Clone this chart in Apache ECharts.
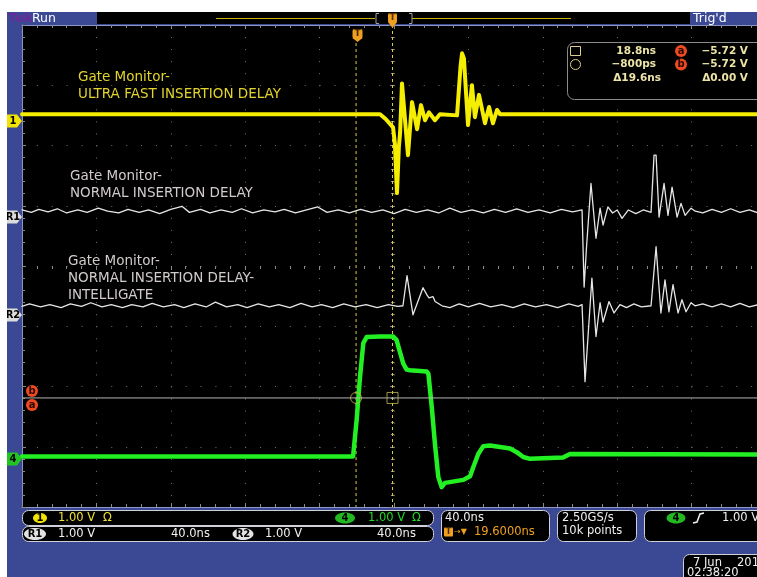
<!DOCTYPE html>
<html><head><meta charset="utf-8">
<script src="https://cdn.jsdelivr.net/npm/echarts@6/dist/echarts.min.js"></script>
<style>html,body{margin:0;padding:0;background:#fff}#c{width:757px;height:577px}</style>
</head><body><div id="c"></div><script>
// ---- scope settings ----
const TIME_PER_DIV = 40;      // ns/div
const X_VISIBLE_NS = 395.16;  // the right ~0.12 div of the 10-div screen is cropped off the picture
const Y_DIVS = 8;             // -4 .. 4 div, 1 V/div
const HPOS_NS = 180.4;        // trigger point measured from left edge (ns)
const CURSOR_T = [-0.8, 18.8]; // cursor times relative to trigger (ns)
const CURSOR_LEVEL = -2.19;   // horizontal cursor a/b position (div)
// channel ground positions (div)
const CH1_POS = 2.52, R1_POS = 0.91, R2_POS = -0.66, CH4_POS = -3.16;

// ---- waveforms: [time from left edge (ns), volts relative to ground] ----
const ch1Wave = [[0,0],[192.5,0],[195.5,-0.08],[199.5,-0.22],[200.5,-0.5],[201.6,-1.31],[202.6,-0.55],[203.3,-0.3],[204.3,0.51],
 [207.5,-0.68],[209.7,0.20],[212.4,-0.25],[214.5,0.15],[216.7,-0.10],[218.8,0.03],[222.0,-0.10],[224.7,0],[233.9,-0.02],
 [235.8,0.8],[236.6,1.01],[237.6,0.92],[239.8,-0.18],[241.9,0.48],[243.5,-0.05],[245.7,0.32],[248.9,-0.15],[251.1,0.12],
 [253.2,-0.15],[255.4,0.07],[257.0,0],[400,0]];
const r1Wave = [[0,0.02],[5,-0.02],[9,0.03],[14,-0.01],[19,0.04],[24,-0.03],[30,0.02],[35,-0.02],[41,0.05],[46,0],[52,-0.03],
 [57,0.03],[63,-0.02],[68,0.02],[74,-0.04],[80,0.03],[86,0.08],[90,-0.02],[96,0.03],[101,-0.03],[107,0.02],[113,-0.02],
 [118,0.04],[124,-0.03],[130,0.02],[136,-0.01],[141,0.03],[147,-0.03],[153,0.02],[159,0.07],[164,-0.02],[170,0.02],
 [176,-0.03],[182,0.03],[188,-0.02],[194,0.02],[200,-0.04],[206,0.03],[212,-0.02],[218,0.02],[224,-0.03],[230,0.05],
 [236,-0.02],[242,0.02],[248,-0.03],[254,0.03],[260,-0.02],[266,0.04],[272,-0.02],[278,0.02],[284,-0.03],[290,0.03],
 [296,-0.01],[301.1,0.02],[302.2,-1.26],[303.5,-0.6],[305.9,0.46],[308.6,-0.45],[310.8,0.05],[312.4,-0.23],[315.0,0.07],
 [317.5,-0.03],[320,0.02],[322.6,-0.12],[326,0.02],[330,-0.04],[334,0.02],[338.2,-0.02],[339.8,0.93],[340.9,0.93],
 [342.5,-0.10],[345.2,0.46],[347.3,-0.07],[349.5,0.40],[352.2,-0.10],[354.3,0.13],[356.5,-0.07],[359.7,0.05],[362,0.0],
 [366,-0.03],[371,0.03],[376,-0.02],[381,0.04],[386,-0.02],[391,0.02],[396,-0.03],[400,0.01]];
const r2Wave = [[0,-0.01],[4,0.03],[10,-0.02],[15,0.02],[21,-0.03],[26,0.03],[32,-0.01],[37,0.05],[43,-0.02],[48,0.02],
 [54,-0.03],[59,0.02],[65,-0.02],[70,0.04],[76,-0.02],[82,0.02],[87,-0.03],[93,0.03],[99,-0.02],[104,0.06],[110,-0.02],
 [116,0.02],[121,-0.03],[127,0.03],[133,-0.02],[138,0.02],[144,-0.03],[150,0.04],[156,-0.02],[161,0.02],[167,-0.03],
 [173,0.03],[179,-0.02],[185,0.02],[191,-0.03],[197,0.02],[202,-0.01],[204.8,0],[207.0,0.50],[210.2,-0.15],[215.6,0.30],
 [217.7,0.18],[218.8,0.13],[221.0,0.15],[222.1,0.07],[225.8,0],[230,-0.03],[235,0.03],[240,-0.02],[246,0.04],[252,-0.02],
 [258,0.02],[264,-0.03],[270,0.03],[276,-0.02],[282,0.02],[288,-0.03],[294,0.03],[299,-0.01],[301.1,0.02],[302.7,-1.26],
 [306.4,0.46],[308.6,-0.51],[310.8,0.05],[312.4,-0.27],[315.6,0.07],[318.3,-0.12],[321.5,0.02],[325,-0.03],[329,0.03],
 [333,-0.02],[338.2,0],[340.9,0.98],[343.5,-0.12],[345.7,0.43],[347.8,-0.10],[350.0,0.35],[352.7,-0.12],[354.8,0.10],
 [357.0,-0.10],[359.7,0.05],[361.8,0],[366,0.03],[371,-0.02],[376,0.03],[381,-0.02],[386,0.04],[391,-0.02],[396,0.02],[400,0]];
const ch4Wave = [[0,0],[178.0,0],[179.9,0.6],[181.7,1.31],[183.5,1.88],[185.3,1.98],[192.5,1.99],[199.6,1.99],[201.4,1.93],
 [203.2,1.73],[205.0,1.54],[206.8,1.44],[208.6,1.43],[217.6,1.41],[218.5,1.37],[220.3,0.82],[222.0,0.21],[223.8,-0.34],
 [225.6,-0.51],[227.4,-0.44],[237.3,-0.39],[240.9,-0.33],[242.6,-0.18],[245.3,0.04],[248.0,0.17],[251.6,0.18],[262.4,0.13],
 [266.0,0.07],[269.5,-0.01],[273.1,-0.04],[290.9,-0.02],[294.6,0.04],[400,0.03]];

// ---- readouts ----
const measRows = [["18.8ns","a","−5.72 V"],["−800ps","b","−5.72 V"]];
const measDelta = ["Δ19.6ns","Δ0.00 V"];
const traceLabels = [
  {lines:["Gate Monitor-","ULTRA FAST INSERTION DELAY"], color:"#e2d42c"},
  {lines:["Gate Monitor-","NORMAL INSERTION DELAY"], color:"#d2cbcb"},
  {lines:["Gate Monitor-","NORMAL INSERTION DELAY-","INTELLIGATE"], color:"#d2cbcb"}
];

const shift = (w, off) => w.map(p => [p[0], p[1] + off]);
const FONT = "'DejaVu Sans'";
const BLUE = '#3b4994';

function xAx(pos, offset, split, line, inside) {
  return {type:'value', min:0, max:X_VISIBLE_NS, interval:TIME_PER_DIV, position:pos, offset:offset,
    axisLine:{show:line, onZero:false, lineStyle:{color:'#8e96c6', width:1}},
    axisTick:{show:true, inside:inside, length:4, lineStyle:{color:'#8a8a8a'}},
    minorTick:{show:true, splitNumber:5, length:3, lineStyle:{color:'#8a8a8a'}},
    axisLabel:{show:false},
    splitLine:{show:split, lineStyle:{color:'#707070', width:1, type:[1,11.05]}}};
}
function yAx(pos, offset, split, line, inside) {
  return {type:'value', min:-Y_DIVS/2, max:Y_DIVS/2, interval:1, position:pos, offset:offset,
    axisLine:{show:line, onZero:false, lineStyle:{color:'#8e96c6', width:1}},
    axisTick:{show:true, inside:inside, length:4, lineStyle:{color:'#8a8a8a'}},
    minorTick:{show:true, splitNumber:5, length:3, lineStyle:{color:'#8a8a8a'}},
    axisLabel:{show:false},
    splitLine:{show:split, lineStyle:{color:'#707070', width:1, type:[1,13.88]}}};
}

function txt(x, y, text, fill, font, align, z) {
  return {type:'text', z: z||12, style:{x:x, y:y, text:text, fill:fill, font:font, textAlign:align||'left', textVerticalAlign:'middle'}};
}
function rrect(x, y, w, h, r, fill, stroke, z) {
  return {type:'rect', z: z||11, shape:{x:x, y:y, width:w, height:h, r:r}, style:{fill:fill, stroke:stroke||null, lineWidth:1}};
}
function chMarker(y, label, fill) {
  return [
    {type:'polygon', z:12, shape:{points:[[7,y-6.5],[17,y-6.5],[22,y],[17,y+6.5],[7,y+6.5]]}, style:{fill:fill}},
    txt(13, y, label, '#000', 'bold 10px ' + FONT, 'center', 13)
  ];
}
function oval(cx, cy, rx, ry, fill, label, lfill) {
  return [
    {type:'ellipse', z:12, shape:{cx:cx, cy:cy, rx:rx, ry:ry}, style:{fill:fill}},
    txt(cx, cy+0.5, label, lfill||'#000', 'bold 10px ' + FONT, 'center', 13)
  ];
}
function redCircle(cx, cy, letter) {
  return [
    {type:'circle', z:12, shape:{cx:cx, cy:cy, r:6}, style:{fill:'#ee4a22'}},
    txt(cx, cy, letter, '#2a0800', 'bold 10px ' + FONT, 'center', 13)
  ];
}

const G = [];
// margins
G.push({type:'rect', z:30, shape:{x:0,y:0,width:757,height:12}, style:{fill:'#fff'}});
G.push({type:'rect', z:30, shape:{x:0,y:0,width:7,height:577}, style:{fill:'#fff'}});
// top bar
G.push({type:'rect', z:11, shape:{x:97,y:12,width:593,height:12}, style:{fill:'#000'}});
G.push(txt(8, 18.5, 'Tek', '#6a2a9a', 'bold 13px ' + FONT));
G.push(txt(32, 18.5, 'Run', '#ffffff', '12.5px ' + FONT));
G.push(txt(693, 18.5, "Trig'd", '#ffffff', '12.5px ' + FONT));
G.push({type:'polyline', z:12, shape:{points:[[216,18.5],[375,18.5]]}, style:{stroke:'#c8b400', lineWidth:1, fill:null}});
G.push({type:'polyline', z:12, shape:{points:[[412,18.5],[571,18.5]]}, style:{stroke:'#c8b400', lineWidth:1, fill:null}});
G.push({type:'polyline', z:12, shape:{points:[[379,13.5],[376,13.5],[376,23.5],[379,23.5]]}, style:{stroke:'#a0a0a0', lineWidth:1, fill:null}});
G.push({type:'polyline', z:12, shape:{points:[[409,13.5],[412,13.5],[412,23.5],[409,23.5]]}, style:{stroke:'#a0a0a0', lineWidth:1, fill:null}});
G.push(rrect(388, 13, 9, 10, 2, '#f0a020', null, 14));
G.push({type:'polygon', z:14, shape:{points:[[388,22],[397,22],[392.5,28]]}, style:{fill:'#f0a020'}});
G.push(txt(392.5, 18, 'T', '#5a3000', 'bold 9px ' + FONT, 'center', 15));
// trigger marker in plot
G.push(rrect(352.5, 29, 10, 10, 2, '#f0a020', null, 14));
G.push({type:'polygon', z:14, shape:{points:[[352.5,38],[362.5,38],[357.5,42]]}, style:{fill:'#f0a020'}});
G.push(txt(357.5, 34, 'T', '#4a2800', 'bold 9px ' + FONT, 'center', 15));
// channel markers
G.push(...chMarker(121, '1', '#f2e400'));
G.push(...chMarker(217, 'R1', '#dcdcdc'));
G.push(...chMarker(315, 'R2', '#dcdcdc'));
G.push(...chMarker(459, '4', '#22c422'));
// cursor level markers
G.push(...redCircle(32, 391, 'b'));
G.push(...redCircle(32, 405, 'a'));
// trace labels
const labelPos = [[78, 77], [70, 176], [68, 261]];
traceLabels.forEach((lb, i) => {
  lb.lines.forEach((s, j) => G.push(txt(labelPos[i][0], labelPos[i][1] + j*17, s, lb.color, '13.5px ' + FONT)));
});
// measurement box
G.push(rrect(567.5, 42.5, 200, 57, 7, '#000', '#8c8c8c', 11));
G.push({type:'rect', z:12, shape:{x:570.5,y:46.5,width:10,height:9}, style:{fill:null, stroke:'#d8d088', lineWidth:1}});
G.push({type:'circle', z:12, shape:{cx:575.5,cy:64.5,r:5}, style:{fill:null, stroke:'#d8d088', lineWidth:1}});
const MF = 'bold 10.5px ' + FONT, MC = '#ece4a6';
measRows.forEach((r, i) => {
  const y = 51 + i*13.5;
  G.push(txt(656, y, r[0], MC, MF, 'right'));
  G.push(...redCircle(681, y, r[1]));
  G.push(txt(748, y, r[2], MC, MF, 'right'));
});
G.push(txt(661, 78.5, measDelta[0], MC, MF, 'right'));
G.push(txt(748, 78.5, measDelta[1], MC, MF, 'right'));
// bottom readouts
const BF = '11.5px ' + FONT;
G.push(rrect(22.5, 510.5, 411, 15, 6, '#000', '#d0d0d8'));
G.push(rrect(22.5, 526.5, 411, 15, 6, '#000', '#d0d0d8'));
G.push(...oval(40, 518, 7, 5, '#f2e400', '1'));
G.push(txt(58, 518.5, '1.00 V', '#f0e030', BF));
G.push(txt(103, 518.5, 'Ω', '#f0e030', BF));
G.push(...oval(345, 518, 10, 5.5, '#22b822', '4'));
G.push(txt(368, 518.5, '1.00 V', '#22d822', BF));
G.push(txt(412, 518.5, 'Ω', '#22d822', BF));
G.push(...oval(35, 534, 11, 6, '#e2e2e2', 'R1'));
G.push(txt(58, 534.5, '1.00 V', '#f0f0f0', BF));
G.push(txt(171, 534.5, '40.0ns', '#f0f0f0', BF));
G.push(...oval(243, 534, 10.5, 6, '#e2e2e2', 'R2'));
G.push(txt(265, 534.5, '1.00 V', '#f0f0f0', BF));
G.push(txt(377, 534.5, '40.0ns', '#f0f0f0', BF));
G.push(rrect(441.5, 510.5, 108, 31, 6, '#000', '#d0d0d8'));
G.push(txt(445, 518.5, '40.0ns', '#f0f0f0', BF));
G.push(rrect(444, 527.5, 9, 9, 1, '#f0a020', null, 12));
G.push(txt(448.5, 532, 'T', '#4a2800', 'bold 8px ' + FONT, 'center', 13));
G.push(txt(454, 532, '→▼', '#f0a020', '8px ' + FONT));
G.push(txt(474, 532.5, '19.6000ns', '#f0a020', BF));
G.push(rrect(557.5, 510.5, 79, 31, 6, '#000', '#d0d0d8'));
G.push(txt(562, 518.5, '2.50GS/s', '#f0f0f0', BF));
G.push(txt(562, 531.5, '10k points', '#f0f0f0', BF));
G.push(rrect(644.5, 510.5, 140, 31, 6, '#000', '#d0d0d8'));
G.push(...oval(676, 518, 9.5, 5.5, '#22b822', '4'));
G.push({type:'polyline', z:12, shape:{points:[[693,523],[697,522],[700,514],[704,513]]}, style:{stroke:'#f0f0f0', lineWidth:1.5, fill:null}});
G.push(txt(722, 518.5, '1.00 V', '#f0f0f0', BF));
G.push(rrect(683.5, 554.5, 100, 30, 6, '#000', '#d0d0d8'));
G.push(txt(693, 563, '7 Jun', '#f0f0f0', BF));
G.push(txt(737, 563, '2017', '#f0f0f0', BF));
G.push(txt(687, 573.5, '02:38:20', '#f0f0f0', BF));

const cursorX = CURSOR_T.map(t => HPOS_NS + t);
const lineSeries = (name, data, color, width, z) => ({type:'line', name:name, data:data, showSymbol:false, symbol:'none',
  lineStyle:{color:color, width:width, join:'round', cap:'round'}, z:z, silent:true, animation:false});

const option = {
  backgroundColor: BLUE,
  animation: false,
  grid: {left:22, top:25, right:0, height:482, show:true, backgroundColor:'#000', borderWidth:0},
  xAxis: [xAx('bottom', 0, true, true, true), xAx('top', 0, false, true, true), xAx('bottom', -241, false, false, false)],
  yAxis: [yAx('left', 0, true, true, true), yAx('left', -372, false, false, false)],
  graphic: G,
  series: [
    {type:'line', name:'cursor1', data:[[cursorX[0], 3.7],[cursorX[0], -4]], showSymbol:false, symbol:'none',
      lineStyle:{color:'#d8d040', width:1, type:[3,3]}, z:3, silent:true},
    {type:'line', name:'cursor2', data:[[cursorX[1], 4],[cursorX[1], -4]], showSymbol:false, symbol:'none',
      lineStyle:{color:'#d8d040', width:1, type:[3,3]}, z:3, silent:true},
    lineSeries('R1', shift(r1Wave, R1_POS), '#e6e6e6', 1.3, 4),
    lineSeries('R2', shift(r2Wave, R2_POS), '#e6e6e6', 1.3, 4),
    lineSeries('CH4', shift(ch4Wave, CH4_POS), '#22f022', 4.5, 5),
    lineSeries('CH1', shift(ch1Wave, CH1_POS), '#f6ee00', 4, 5),
    {type:'line', name:'cursorAB', data:[[0, CURSOR_LEVEL],[X_VISIBLE_NS, CURSOR_LEVEL]], showSymbol:false, symbol:'none',
      lineStyle:{color:'#b4b4b4', width:1}, z:6, silent:true},
    {type:'scatter', data:[[cursorX[0], CURSOR_LEVEL]], symbol:'circle', symbolSize:11,
      itemStyle:{color:'rgba(0,0,0,0)', borderColor:'#c8b850', borderWidth:1}, z:7, silent:true},
    {type:'scatter', data:[[cursorX[1], CURSOR_LEVEL]], symbol:'rect', symbolSize:11,
      itemStyle:{color:'rgba(0,0,0,0)', borderColor:'#c8b850', borderWidth:1}, z:7, silent:true}
  ]
};
const chart = echarts.init(document.getElementById('c'), null, {renderer:'canvas'});
chart.setOption(option);
</script></body></html>
